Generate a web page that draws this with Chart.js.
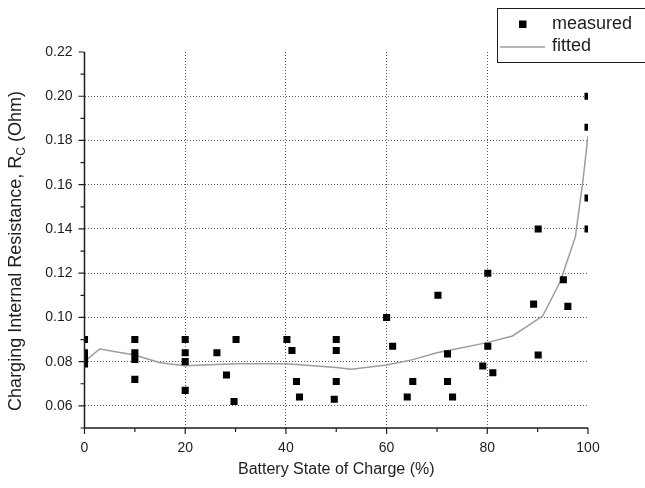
<!DOCTYPE html>
<html>
<head>
<meta charset="utf-8">
<script src="https://cdn.jsdelivr.net/npm/chart.js@4"></script>
<style>
  html, body { margin: 0; padding: 0; background: #fff; }
</style>
</head>
<body>
<canvas id="rcChart" width="645" height="488"></canvas>
<script>
// measured points (SOC %, Rc in Ohm)
const measuredX = [0, 0, 0, 0, 10, 10, 10, 10, 20, 20, 20, 20, 26.3, 28.2, 29.7, 30.1,
    40.2, 41.2, 42.1, 42.7, 50, 50, 50, 49.6, 60, 61.2, 64.1, 65.2, 70.2, 72.1, 72.1, 73.1,
    79.1, 80.1, 80.1, 81.1, 89.2, 90.1, 90.1, 95.1, 96, 100, 100, 100, 100];
const measuredY = [0.090, 0.084, 0.081, 0.079, 0.090, 0.084, 0.081, 0.072, 0.090, 0.084, 0.080, 0.067,
    0.084, 0.074, 0.062, 0.090, 0.090, 0.085, 0.071, 0.064, 0.090, 0.085, 0.071, 0.063,
    0.100, 0.087, 0.064, 0.071, 0.110, 0.0835, 0.071, 0.064, 0.078, 0.087, 0.120, 0.075,
    0.106, 0.083, 0.140, 0.117, 0.105, 0.200, 0.186, 0.154, 0.140];

// fitted curve
const fittedX = [0, 3, 10, 15, 20, 30, 40, 50, 53, 60, 65, 70, 80, 85, 91, 94.5, 97.5, 99, 100];
const fittedY = [0.080, 0.0857, 0.083, 0.0795, 0.0782, 0.0790, 0.0790, 0.0773, 0.0766, 0.0785,
    0.0808, 0.0840, 0.0886, 0.0916, 0.1006, 0.1162, 0.1365, 0.162, 0.182];

const xMajorTicks = [0, 20, 40, 60, 80, 100];
const xMinorTicks = [10, 30, 50, 70, 90];
const yMajorTicks = [0.06, 0.08, 0.10, 0.12, 0.14, 0.16, 0.18, 0.20, 0.22];
const yMinorTicks = [0.05, 0.07, 0.09, 0.11, 0.13, 0.15, 0.17, 0.19, 0.21];
const xGridAt = [20, 40, 60, 80];
const yGridAt = [0.06, 0.08, 0.10, 0.12, 0.14, 0.16, 0.18, 0.20];

const seriesNames = ['measured', 'fitted'];
const xTitle = 'Battery State of Charge (%)';

const FONT = '"Liberation Sans", Arial, Helvetica, sans-serif';
const INK = '#1e1e1e';
const LINE_GREY = '#9c9c9c';

function toPoints(xs, ys) {
    return xs.map((x, i) => ({ x: x, y: ys[i] }));
}

function near(list, v) {
    return list.some(t => Math.abs(t - v) < 1e-6);
}

const decorPlugin = {
    id: 'decor',
    afterDatasetsDraw(chart) {
        const { ctx, chartArea: a, scales: { x, y } } = chart;
        ctx.save();
        ctx.strokeStyle = INK;
        ctx.lineWidth = 1.5;
        ctx.beginPath();
        ctx.moveTo(a.left, y.getPixelForValue(0.22));
        ctx.lineTo(a.left, a.bottom);
        ctx.lineTo(x.getPixelForValue(100), a.bottom);
        ctx.stroke();

        ctx.lineWidth = 1.2;
        ctx.beginPath();
        xMajorTicks.forEach(v => {
            const px = x.getPixelForValue(v);
            ctx.moveTo(px, a.bottom); ctx.lineTo(px, a.bottom + 6);
        });
        xMinorTicks.forEach(v => {
            const px = x.getPixelForValue(v);
            ctx.moveTo(px, a.bottom); ctx.lineTo(px, a.bottom + 4);
        });
        yMajorTicks.forEach(v => {
            const py = y.getPixelForValue(v);
            ctx.moveTo(a.left, py); ctx.lineTo(a.left - 6, py);
        });
        yMinorTicks.forEach(v => {
            const py = y.getPixelForValue(v);
            ctx.moveTo(a.left, py); ctx.lineTo(a.left - 4, py);
        });
        ctx.stroke();
        ctx.restore();
    },
    afterDraw(chart) {
        const { ctx, chartArea: a } = chart;
        ctx.save();
        ctx.fillStyle = INK;

        // x title
        ctx.font = '16px ' + FONT;
        ctx.textAlign = 'center';
        ctx.textBaseline = 'middle';
        ctx.fillText(xTitle, (a.left + a.right) / 2, 470);

        // y title with subscript
        ctx.translate(21, 251);
        ctx.rotate(-Math.PI / 2);
        ctx.textAlign = 'left';
        ctx.textBaseline = 'alphabetic';
        const p1 = 'Charging Internal Resistance, R', sub = 'C', p2 = ' (Ohm)';
        ctx.font = '18px ' + FONT;
        const w1 = ctx.measureText(p1).width;
        const w3 = ctx.measureText(p2).width;
        ctx.font = '12px ' + FONT;
        const w2 = ctx.measureText(sub).width;
        let cx = -(w1 + w2 + w3) / 2;
        ctx.font = '18px ' + FONT;
        ctx.fillText(p1, cx, 0);
        cx += w1;
        ctx.font = '12px ' + FONT;
        ctx.fillText(sub, cx, 4);
        cx += w2;
        ctx.font = '18px ' + FONT;
        ctx.fillText(p2, cx, 0);
        ctx.restore();

        // legend box
        ctx.save();
        ctx.fillStyle = '#fff';
        ctx.fillRect(497, 8, 160, 55);
        ctx.strokeStyle = INK;
        ctx.lineWidth = 1;
        ctx.strokeRect(497.5, 8.5, 160, 54);
        ctx.fillStyle = '#000';
        ctx.fillRect(519, 20.5, 7.5, 7.5);
        ctx.strokeStyle = LINE_GREY;
        ctx.lineWidth = 1.5;
        ctx.beginPath();
        ctx.moveTo(500, 47); ctx.lineTo(545, 47);
        ctx.stroke();
        ctx.fillStyle = INK;
        ctx.font = '18px ' + FONT;
        ctx.textAlign = 'left';
        ctx.textBaseline = 'middle';
        ctx.fillText(seriesNames[0], 552, 24);
        ctx.fillText(seriesNames[1], 552, 46);
        ctx.restore();
    }
};

const ctx = document.getElementById('rcChart').getContext('2d');
const chart = new Chart(ctx, {
    type: 'scatter',
    data: {
        datasets: [{
            label: seriesNames[0],
            data: toPoints(measuredX, measuredY),
            pointStyle: 'rect',
            pointRadius: 5,
            pointHoverRadius: 5,
            backgroundColor: '#000',
            borderColor: '#000',
            borderWidth: 0,
            showLine: false
        }, {
            label: seriesNames[1],
            data: toPoints(fittedX, fittedY),
            showLine: true,
            pointRadius: 0,
            borderColor: LINE_GREY,
            borderWidth: 1.5,
            tension: 0
        }]
    },
    options: {
        responsive: false,
        animation: false,
        events: [],
        layout: { padding: { left: 0, top: 52, right: 57, bottom: 0 } },
        plugins: {
            legend: { display: false },
            tooltip: { enabled: false }
        },
        scales: {
            x: {
                type: 'linear',
                min: 0,
                max: 100,
                afterBuildTicks: scale => { scale.ticks = xMajorTicks.map(v => ({ value: v })); },
                afterFit: scale => { scale.height = 60; },
                border: { display: false, dash: [1, 2] },
                grid: {
                    drawTicks: false,
                    lineWidth: 1,
                    color: c => near(xGridAt, c.tick.value) ? '#5a5a5a' : 'rgba(0,0,0,0)'
                },
                ticks: {
                    padding: 12,
                    color: INK,
                    maxRotation: 0,
                    font: { family: FONT, size: 14 },
                    callback: v => String(v)
                }
            },
            y: {
                type: 'linear',
                min: 0.05,
                max: 0.22,
                afterBuildTicks: scale => { scale.ticks = yMajorTicks.map(v => ({ value: v })); },
                afterFit: scale => { scale.width = 84.5; },
                border: { display: false, dash: [1, 2] },
                grid: {
                    drawTicks: false,
                    lineWidth: 1,
                    color: c => near(yGridAt, c.tick.value) ? '#5a5a5a' : 'rgba(0,0,0,0)'
                },
                ticks: {
                    padding: 12,
                    color: INK,
                    font: { family: FONT, size: 14 },
                    callback: v => Number(v).toFixed(2)
                }
            }
        }
    },
    plugins: [decorPlugin]
});
</script>
</body>
</html>
